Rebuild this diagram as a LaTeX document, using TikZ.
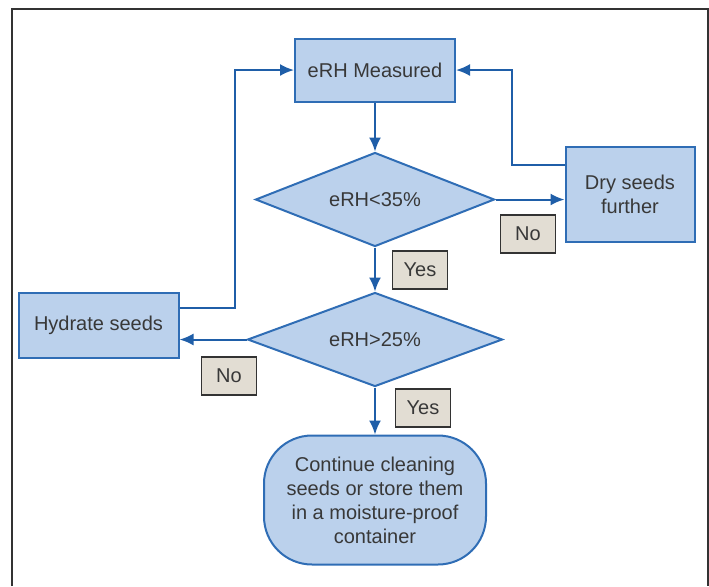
\documentclass[tikz,border=0pt]{standalone}
\usepackage{fontspec}
\setmainfont{Liberation Sans}
\usetikzlibrary{arrows.meta,shapes.geometric,positioning}
\definecolor{boxfill}{HTML}{BBD1EC}
\definecolor{boxline}{HTML}{2F6DB5}
\definecolor{arrline}{HTML}{1F5EA8}
\definecolor{tagfill}{HTML}{E2DDD3}
\definecolor{txtgray}{HTML}{383838}

\begin{document}
\begin{tikzpicture}[x=0.5pt, y=-0.5pt,
  box/.style={draw=boxline, fill=boxfill, line width=1pt, align=center,
              font=\fontsize{10}{12}\selectfont, text=txtgray, inner sep=2pt},
  decision/.style={box, diamond, aspect=2.5, inner sep=0pt},
  endbox/.style={box, rounded corners=24pt},
  tag/.style={draw=black!80, fill=tagfill, line width=0.8pt,
              font=\fontsize{10}{12}\selectfont, text=txtgray,
              minimum width=27.5pt, minimum height=19pt, inner sep=1pt},
  arr/.style={-{Latex[length=7pt,width=6pt]}, line width=1pt, arrline},
  frame/.style={line width=1pt, black!80},
]
\useasboundingbox (0,0) rectangle (709,586);
\draw[frame] (12,586) |- (708,9) -- (708,586);

\node[box, minimum width=80pt, minimum height=31.5pt] (measured) at (375,70) {eRH Measured};
\node[decision, minimum width=119.5pt, minimum height=47pt, below=24.5pt of measured] (dry35) {eRH<35\%};
\node[decision, minimum width=127.5pt, minimum height=47pt, below=22pt of dry35] (wet25) {eRH>25\%};
\node[endbox, minimum width=111pt, minimum height=64.5pt, below=23.5pt of wet25] (store) {Continue cleaning\\
  seeds or store them\\ in a moisture-proof\\ container};
\node[box, minimum width=64.5pt, minimum height=47.5pt, right=34.5pt of dry35, yshift=2.75pt] (dryfurther) {Dry seeds\\ further};
\node[box, minimum width=80pt, minimum height=32.5pt, left=33.5pt of wet25, yshift=7.25pt] (hydrate) {Hydrate seeds};

\node[tag] (no1) at (528,234) {No};
\node[tag] (yes1) at (420,270) {Yes};
\node[tag] (no2) at (229,376) {No};
\node[tag] (yes2) at (423,408) {Yes};

\draw[arr] (measured) -- (dry35);
\draw[arr] (dry35) -- (wet25);
\draw[arr] (wet25) -- (store);
\draw[arr] (dry35.east) -- (dry35.east -| dryfurther.west);
\draw[arr] (wet25.west) -- (wet25.west -| hydrate.east);
\draw[arr] ([yshift=-9.5pt]dryfurther.north west) -| ([xshift=28pt]measured.east) -- (measured.east);
\draw[arr] ([yshift=-8pt]hydrate.north east) -| ([xshift=-29.5pt]measured.west) -- (measured.west);
\end{tikzpicture}
\end{document}
